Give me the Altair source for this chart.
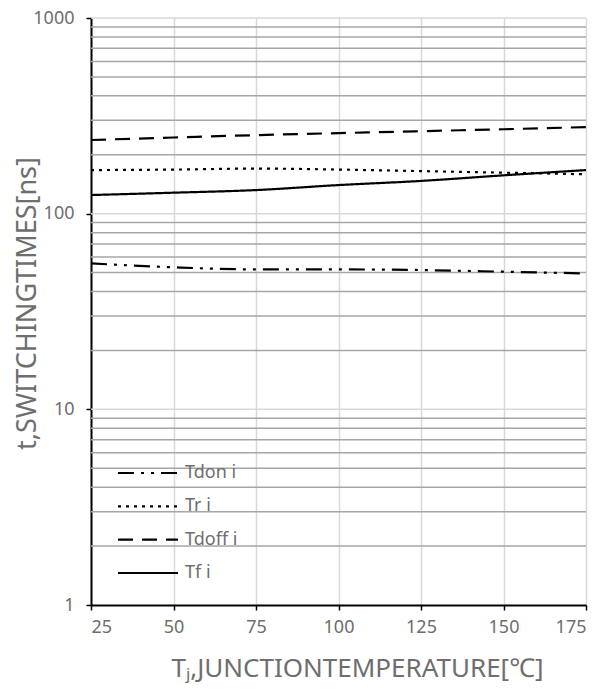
import altair as alt
import pandas as pd

temps = [25, 50, 75, 100, 125, 150, 175]
series_names = ["Tdon i", "Tr i", "Tdoff i", "Tf i"]
tdon = [55.7, 53.2, 51.9, 51.9, 51.5, 50.5, 49.5]
tr = [167, 168, 170, 168, 165, 162, 159]
tdoff = [238, 245, 252, 258, 264, 270, 277]
tf = [124.5, 128, 132, 140, 147, 157, 167]

minor_vals = [2, 3, 4, 5, 6, 7, 8, 9, 20, 30, 40, 50, 60, 70, 80, 90,
              200, 300, 400, 500, 600, 700, 800, 900]
decade_vals = [10, 100, 1000]
x_ticks = [25, 50, 75, 100, 125, 150, 175]
y_ticks = [1, 10, 100, 1000]

rows = []
for name, vals in zip(series_names, [tdon, tr, tdoff, tf]):
    for t, v in zip(temps, vals):
        rows.append({"series": name, "T": t, "t": v})
df = pd.DataFrame(rows)
leg_df = pd.DataFrame({"series": series_names})

FONT = "Noto Sans"
GREY = "#6e6e6e"

xscale = alt.Scale(domain=[25, 175], nice=False, zero=False)
yscale = alt.Scale(type="log", domain=[1, 1000], nice=False)
dash_scale = alt.Scale(domain=series_names,
                       range=[[16, 7, 3, 7, 3, 7], [3, 5], [15, 9], [1, 0]])

minor_grid = alt.Chart(pd.DataFrame({"v": minor_vals})).mark_rule(
    color="#a6a6a6", strokeWidth=1.5
).encode(y=alt.Y("v:Q", scale=yscale, axis=None))

decade_grid = alt.Chart(pd.DataFrame({"v": decade_vals})).mark_rule(
    color="#d9d9d9", strokeWidth=1.5
).encode(y=alt.Y("v:Q", scale=yscale, axis=None))

lines = alt.Chart(df).mark_line(color="black", strokeWidth=2.2, interpolate="monotone").encode(
    x=alt.X("T:Q", scale=xscale,
            axis=alt.Axis(values=x_ticks, title="Tⱼ,JUNCTIONTEMPERATURE[℃]",
                          grid=True, gridColor="#d9d9d9", gridWidth=1.5,
                          domainColor="black", domainWidth=2,
                          tickColor="black", tickSize=5, tickWidth=1.5,
                          labelFont=FONT, labelFontSize=18, labelColor=GREY, labelPadding=8,
                          titleFont=FONT, titleFontSize=26, titleFontWeight="normal",
                          titleColor=GREY, titlePadding=19, titleX=266)),
    y=alt.Y("t:Q", scale=yscale,
            axis=alt.Axis(values=y_ticks, format="d", title="t,SWITCHINGTIMES[ns]",
                          grid=False, domainColor="black", domainWidth=2,
                          tickColor="black", tickSize=5, tickWidth=1.5,
                          labelFont=FONT, labelFontSize=18, labelColor=GREY, labelPadding=12,
                          titleFont=FONT, titleFontSize=27, titleFontWeight="normal",
                          titleColor=GREY, titleX=-64, titleY=285,
                          titleAlign="center", titleBaseline="middle", titleAngle=270)),
    strokeDash=alt.StrokeDash("series:N", scale=dash_scale, legend=None),
    order=alt.Order("T:Q"),
)

leg_y = alt.Y("series:N", scale=alt.Scale(type="point", domain=series_names,
                                          range=[455, 555], padding=0), axis=None)

leg_lines = alt.Chart(leg_df).mark_rule(color="black", strokeWidth=2.2).encode(
    y=leg_y, x=alt.value(27), x2=alt.value(87),
    strokeDash=alt.StrokeDash("series:N", scale=dash_scale, legend=None),
)
leg_text = alt.Chart(leg_df).mark_text(
    align="left", baseline="middle", font=FONT, fontSize=18, color=GREY
).encode(y=leg_y, x=alt.value(94), text="series:N")

chart = alt.layer(minor_grid, decade_grid, lines, leg_lines, leg_text).resolve_scale(
    y="independent"
).properties(
    width=495, height=587,
    autosize=alt.AutoSizeParams(type="none"),
    padding={"left": 91, "top": 18, "right": 25, "bottom": 87},
    background="white",
).configure_view(stroke=None)

chart.save("out.html", embed_options={"renderer": "svg", "actions": False})
